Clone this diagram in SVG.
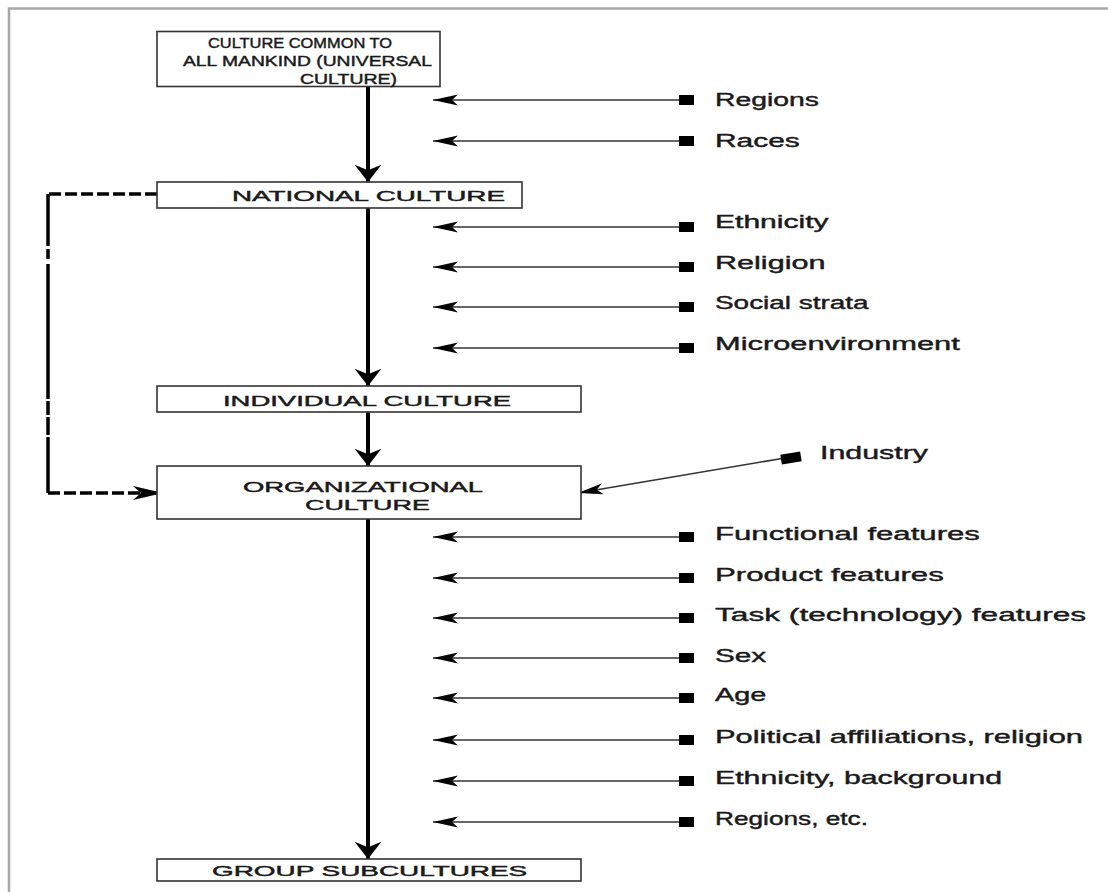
<svg xmlns="http://www.w3.org/2000/svg" width="1108" height="892" viewBox="0 0 1108 892">
  <style>
    .frame { fill: none; stroke: #a8a8a8; stroke-width: 2.5; }
    .box { fill: #fff; stroke: #333; stroke-width: 1.6; }
    .btxt { font-family: "Liberation Sans", Arial, sans-serif; font-size: 15px; fill: #1a1a1a; stroke: #1a1a1a; stroke-width: 0.45; }
    .ltxt { font-family: "Liberation Sans", Arial, sans-serif; font-size: 18px; fill: #1a1a1a; stroke: #1a1a1a; stroke-width: 0.4; }
    .main { stroke: #000; stroke-width: 4; fill: none; }
    .side { stroke: #333; stroke-width: 1.6; fill: none; }
    .dash { stroke: #000; stroke-width: 3.5; fill: none; }
    .sq { fill: #000; }
  </style>
  <defs>
    <marker id="headMain" markerUnits="userSpaceOnUse" markerWidth="30" markerHeight="30" viewBox="-18 -14 20 28" refX="0" refY="0" orient="auto">
      <path d="M0,0 L-16,-12.5 L-11,0 L-16,12.5 Z" fill="#000"/>
    </marker>
    <marker id="headSide" markerUnits="userSpaceOnUse" markerWidth="30" markerHeight="14" viewBox="-27 -7 28 14" refX="0" refY="0" orient="auto">
      <path d="M0,0 L-25,-5.5 L-19,0 L-25,5.5 Z" fill="#000"/>
    </marker>
    <marker id="headDash" markerUnits="userSpaceOnUse" markerWidth="34" markerHeight="20" viewBox="-32 -10 34 20" refX="0" refY="0" orient="auto">
      <path d="M0,0 L-30,-7 L-22,0 L-30,7 Z" fill="#000"/>
    </marker>
  </defs>

  <rect width="1108" height="892" fill="#fff"/>
  <!-- page frame -->
  <path class="frame" d="M9,892 L9,8.5 L1108,8.5"/>

  <!-- connectors -->
  <g id="connectors">
    <!-- main spine -->
    <line class="main" x1="368" y1="86" x2="368" y2="182" marker-end="url(#headMain)"/>
    <line class="main" x1="368" y1="208" x2="368" y2="386" marker-end="url(#headMain)"/>
    <line class="main" x1="368" y1="412" x2="368" y2="466" marker-end="url(#headMain)"/>
    <line class="main" x1="368" y1="519" x2="368" y2="859" marker-end="url(#headMain)"/>

    <!-- dashed bypass from national to organizational culture -->
    <line class="dash" x1="157" y1="194" x2="48" y2="194" stroke-dasharray="12 4"/>
    <line class="dash" x1="48" y1="194" x2="48" y2="493" stroke-width="4.5" stroke-dasharray="52 3 10 5 135 2 14 2 18 2 70"/>
    <line class="dash" x1="48" y1="493" x2="163" y2="493" stroke-dasharray="12 4" marker-end="url(#headDash)"/>

    <!-- influence arrows -->
    <g id="influences">
      <line class="side" x1="680" y1="100" x2="433" y2="100" marker-end="url(#headSide)"/>
      <line class="side" x1="680" y1="141" x2="433" y2="141" marker-end="url(#headSide)"/>
      <line class="side" x1="680" y1="227" x2="433" y2="227" marker-end="url(#headSide)"/>
      <line class="side" x1="680" y1="267" x2="433" y2="267" marker-end="url(#headSide)"/>
      <line class="side" x1="680" y1="307" x2="433" y2="307" marker-end="url(#headSide)"/>
      <line class="side" x1="680" y1="348" x2="433" y2="348" marker-end="url(#headSide)"/>
      <line class="side" x1="785" y1="458" x2="578" y2="493" marker-end="url(#headSide)"/>
      <line class="side" x1="680" y1="537" x2="433" y2="537" marker-end="url(#headSide)"/>
      <line class="side" x1="680" y1="578" x2="433" y2="578" marker-end="url(#headSide)"/>
      <line class="side" x1="680" y1="618" x2="433" y2="618" marker-end="url(#headSide)"/>
      <line class="side" x1="680" y1="658" x2="433" y2="658" marker-end="url(#headSide)"/>
      <line class="side" x1="680" y1="698" x2="433" y2="698" marker-end="url(#headSide)"/>
      <line class="side" x1="680" y1="740" x2="433" y2="740" marker-end="url(#headSide)"/>
      <line class="side" x1="680" y1="781" x2="433" y2="781" marker-end="url(#headSide)"/>
      <line class="side" x1="680" y1="822" x2="433" y2="822" marker-end="url(#headSide)"/>
    </g>
  </g>

  <!-- culture levels (wide lettering: scaled 1.6 horizontally) -->
  <g id="universal">
    <rect class="box" x="157" y="31.5" width="283" height="55"/>
    <text class="btxt" transform="translate(208 48) scale(1.6 1)" textLength="115" lengthAdjust="spacingAndGlyphs">CULTURE COMMON TO</text>
    <text class="btxt" transform="translate(183 66) scale(1.6 1)" textLength="155.6" lengthAdjust="spacingAndGlyphs">ALL MANKIND (UNIVERSAL</text>
    <text class="btxt" transform="translate(300 84) scale(1.6 1)" textLength="60.6" lengthAdjust="spacingAndGlyphs">CULTURE)</text>
  </g>
  <g id="national">
    <rect class="box" x="157" y="182" width="365" height="26"/>
    <text class="btxt" transform="translate(232 200.5) scale(1.6 1)" textLength="170.6" lengthAdjust="spacingAndGlyphs">NATIONAL CULTURE</text>
  </g>
  <g id="individual">
    <rect class="box" x="157" y="386" width="424" height="26"/>
    <text class="btxt" transform="translate(223 405.5) scale(1.6 1)" textLength="180" lengthAdjust="spacingAndGlyphs">INDIVIDUAL CULTURE</text>
  </g>
  <g id="organizational">
    <rect class="box" x="157" y="466" width="424" height="53"/>
    <text class="btxt" transform="translate(243 492) scale(1.6 1)" textLength="150" lengthAdjust="spacingAndGlyphs">ORGANIZATIONAL</text>
    <text class="btxt" transform="translate(305 510) scale(1.6 1)" textLength="78" lengthAdjust="spacingAndGlyphs">CULTURE</text>
  </g>
  <g id="subcultures">
    <rect class="box" x="157" y="859" width="424" height="22"/>
    <text class="btxt" transform="translate(212 876) scale(1.6 1)" textLength="197" lengthAdjust="spacingAndGlyphs">GROUP SUBCULTURES</text>
  </g>

  <!-- influence sources -->
  <g id="src-regions"><rect class="sq" x="679" y="95" width="15" height="10"/><text class="ltxt" transform="translate(715 106) scale(1.6 1)" textLength="65" lengthAdjust="spacingAndGlyphs">Regions</text></g>
  <g id="src-races"><rect class="sq" x="679" y="136" width="15" height="10"/><text class="ltxt" transform="translate(715 147) scale(1.6 1)" textLength="53" lengthAdjust="spacingAndGlyphs">Races</text></g>
  <g id="src-ethnicity"><rect class="sq" x="679" y="222" width="15" height="10"/><text class="ltxt" transform="translate(715 228) scale(1.6 1)" textLength="71" lengthAdjust="spacingAndGlyphs">Ethnicity</text></g>
  <g id="src-religion"><rect class="sq" x="679" y="262" width="15" height="10"/><text class="ltxt" transform="translate(715 269) scale(1.6 1)" textLength="69" lengthAdjust="spacingAndGlyphs">Religion</text></g>
  <g id="src-social"><rect class="sq" x="679" y="302" width="15" height="10"/><text class="ltxt" transform="translate(715 309) scale(1.6 1)" textLength="96" lengthAdjust="spacingAndGlyphs">Social strata</text></g>
  <g id="src-micro"><rect class="sq" x="679" y="343" width="15" height="10"/><text class="ltxt" transform="translate(715 350) scale(1.6 1)" textLength="153" lengthAdjust="spacingAndGlyphs">Microenvironment</text></g>
  <g id="src-industry"><rect class="sq" x="781" y="453" width="20" height="10" transform="rotate(-9 791 458)"/><text class="ltxt" transform="translate(820 459) scale(1.6 1)" textLength="67.5" lengthAdjust="spacingAndGlyphs">Industry</text></g>
  <g id="src-functional"><rect class="sq" x="679" y="532" width="15" height="10"/><text class="ltxt" transform="translate(715 540) scale(1.6 1)" textLength="165.6" lengthAdjust="spacingAndGlyphs">Functional features</text></g>
  <g id="src-product"><rect class="sq" x="679" y="573" width="15" height="10"/><text class="ltxt" transform="translate(715 581) scale(1.6 1)" textLength="143" lengthAdjust="spacingAndGlyphs">Product features</text></g>
  <g id="src-task"><rect class="sq" x="679" y="613" width="15" height="10"/><text class="ltxt" transform="translate(715 621) scale(1.6 1)" textLength="232" lengthAdjust="spacingAndGlyphs">Task (technology) features</text></g>
  <g id="src-sex"><rect class="sq" x="679" y="653" width="15" height="10"/><text class="ltxt" transform="translate(715 662) scale(1.6 1)" textLength="32" lengthAdjust="spacingAndGlyphs">Sex</text></g>
  <g id="src-age"><rect class="sq" x="679" y="693" width="15" height="10"/><text class="ltxt" transform="translate(715 701) scale(1.6 1)" textLength="32" lengthAdjust="spacingAndGlyphs">Age</text></g>
  <g id="src-political"><rect class="sq" x="679" y="735" width="15" height="10"/><text class="ltxt" transform="translate(715 743) scale(1.6 1)" textLength="230" lengthAdjust="spacingAndGlyphs">Political affiliations, religion</text></g>
  <g id="src-background"><rect class="sq" x="679" y="776" width="15" height="10"/><text class="ltxt" transform="translate(715 784) scale(1.6 1)" textLength="179.4" lengthAdjust="spacingAndGlyphs">Ethnicity, background</text></g>
  <g id="src-regions-etc"><rect class="sq" x="679" y="817" width="15" height="10"/><text class="ltxt" transform="translate(715 825) scale(1.6 1)" textLength="95.6" lengthAdjust="spacingAndGlyphs">Regions, etc.</text></g>
</svg>
